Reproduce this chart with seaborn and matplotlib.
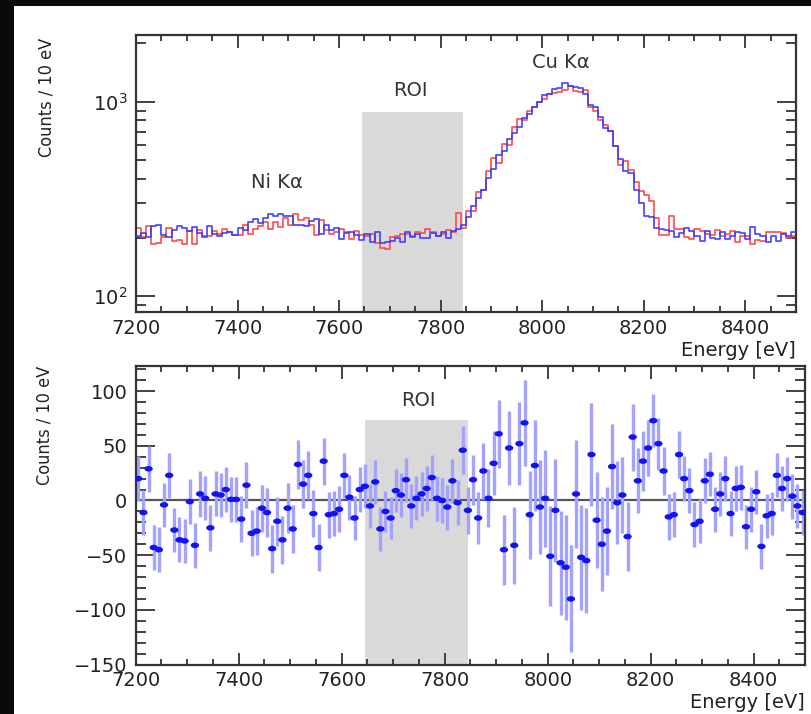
import numpy as np
import pandas as pd
import seaborn as sns
import matplotlib
matplotlib.use("Agg")
import matplotlib.pyplot as plt
from matplotlib import font_manager
from matplotlib.ticker import MultipleLocator, LogLocator, NullFormatter
from matplotlib.patches import Rectangle
from matplotlib.path import Path
from matplotlib.transforms import Affine2D

# ---------------------------------------------------------------- data
# 10 eV bins from 7200 eV to 8500 eV
energy_edges = np.arange(7200, 8501, 10)
energy_centers = energy_edges[:-1] + 5

# spectrum A (blue histogram), counts per 10 eV bin
counts_blue = [
    203, 212, 201, 229, 233, 206, 202, 220, 230, 223,
    217, 226, 212, 202, 230, 210, 205, 211, 213, 206,
    224, 218, 240, 250, 237, 252, 265, 259, 264, 259,
    259, 231, 232, 230, 243, 250, 210, 231, 220, 223,
    198, 212, 213, 206, 194, 209, 191, 213, 188, 190,
    192, 200, 191, 213, 202, 208, 200, 200, 212, 204,
    215, 200, 216, 222, 232, 255, 290, 318, 350, 405,
    450, 530, 560, 640, 690, 740, 820, 860, 940, 990,
    1080, 1100, 1160, 1180, 1240, 1200, 1190, 1170, 1100, 960,
    940, 830, 730, 710, 590, 505, 440, 430, 350, 300,
    258, 255, 225, 222, 220, 216, 201, 212, 224, 216,
    203, 193, 216, 200, 198, 215, 198, 204, 215, 212,
    196, 227, 208, 204, 190, 203, 193, 208, 205, 215,
]

# spectrum B (red histogram), counts per 10 eV bin
counts_red = [
    223, 201, 230, 186, 188, 202, 225, 193, 194, 186,
    216, 185, 218, 204, 205, 216, 210, 221, 214, 207,
    207, 232, 210, 222, 230, 241, 221, 240, 228, 252,
    233, 264, 247, 253, 231, 207, 246, 218, 208, 215,
    221, 215, 197, 216, 207, 204, 208, 187, 178, 174,
    201, 205, 210, 208, 204, 214, 211, 221, 214, 204,
    209, 218, 214, 268, 223, 274, 274, 345, 352, 439,
    511, 485, 608, 599, 742, 811, 807, 892, 934, 992,
    1029, 1091, 1103, 1119, 1150, 1206, 1138, 1115, 1142, 942,
    900, 802, 761, 708, 595, 472, 498, 448, 386, 348,
    331, 307, 252, 207, 207, 258, 221, 221, 202, 197,
    221, 217, 208, 206, 218, 203, 209, 216, 191, 204,
    204, 185, 194, 192, 213, 214, 213, 212, 200, 204,
]

# difference B - A per bin and its statistical uncertainty
residual = [
    20, -11, 29, -43, -45, -4, 23, -27, -36, -37,
    -1, -41, 6, 2, -25, 6, 5, 10, 1, 1,
    -17, 14, -30, -28, -7, -11, -44, -19, -36, -7,
    -26, 33, 15, 23, -12, -43, 36, -13, -12, -8,
    23, 3, -16, 10, 13, -5, 17, -26, -10, -16,
    9, 5, 19, -5, 2, 6, 11, 21, 2, 0,
    -6, 18, -2, 46, -9, 19, -16, 27, 2, 34,
    61, -45, 48, -41, 52, 71, -13, 32, -6, 2,
    -51, -9, -57, -61, -90, 6, -52, -55, 42, -18,
    -40, -28, 31, -2, 5, -33, 58, 18, 36, 48,
    73, 52, 27, -15, -13, 42, 20, 9, -22, -19,
    18, 24, -8, 6, 20, -12, 11, 12, -24, -8,
    8, -42, -14, -12, 23, 11, 20, 4, -5, -11,
]

residual_err = [
    20.6, 20.3, 20.8, 20.4, 20.5, 20.2, 20.7, 20.3, 20.6, 20.2,
    20.8, 20.3, 20.7, 20.1, 20.9, 20.6, 20.4, 20.8, 20.7, 20.3,
    20.8, 21.2, 21.2, 21.7, 21.6, 22.2, 22.0, 22.3, 22.2, 22.6,
    22.2, 22.2, 21.9, 22.0, 21.8, 21.4, 21.4, 21.2, 20.7, 20.9,
    20.5, 20.7, 20.2, 20.5, 20.0, 20.3, 20.0, 20.0, 19.1, 19.1,
    19.8, 20.1, 20.0, 20.5, 20.1, 20.5, 20.3, 20.5, 20.6, 20.2,
    20.6, 20.4, 20.7, 22.1, 21.3, 23.0, 23.7, 25.7, 26.5, 29.1,
    31.0, 31.9, 34.2, 35.2, 37.8, 39.4, 40.3, 41.9, 43.3, 44.5,
    45.9, 46.8, 47.6, 47.9, 48.9, 49.1, 48.2, 47.8, 47.4, 43.6,
    42.9, 40.4, 38.6, 37.7, 34.4, 31.3, 30.6, 29.6, 27.1, 25.5,
    24.3, 23.7, 21.8, 20.7, 20.7, 21.8, 20.5, 20.8, 20.6, 20.3,
    20.6, 20.2, 20.6, 20.1, 20.4, 20.4, 20.2, 20.5, 20.1, 20.4,
    20.0, 20.3, 20.0, 19.9, 20.1, 20.4, 20.1, 20.5, 20.1, 20.5,
]

# region of interest and peak annotations
roi_range = (7645, 7845)
roi_top_counts = 880
roi_top_resid = 74
peak_labels = ["Ni K\u03b1", "Cu K\u03b1"]
peak_label_pos = [(7477, 385), (8036, 1580)]

# ---------------------------------------------------------------- style
sns.set_style("ticks")
plt.rcParams["font.family"] = ["DejaVu Sans"]
plt.rcParams["axes.unicode_minus"] = True

# a narrow face for the rotated axis titles, if one is installed
_installed = {(f.name, f.stretch) for f in font_manager.fontManager.ttflist}
_names = {n for n, _ in _installed}
if "Liberation Sans Narrow" in _names:
    ytitle_font = dict(family=["Liberation Sans Narrow", "DejaVu Sans"], fontsize=15)
elif ("DejaVu Sans", "condensed") in _installed or ("DejaVu Sans", 700 - 200) in _installed:
    ytitle_font = dict(family=["DejaVu Sans"], fontstretch="condensed", fontsize=13)
else:
    ytitle_font = dict(family=["DejaVu Sans"], fontsize=12.5)

TXT = "#222222"
SPINE = "#333333"
BLUE_LINE = "#3c3cff"
RED_LINE = "#ff4646"
ROI_GREY = "#d9d9d9"

fig = plt.figure(figsize=(8.12, 7.14), dpi=100)
fig.patch.set_facecolor("white")
W, H = 812.0, 714.0

# dark slide margins
fig.patches.append(Rectangle((0, 0), 14 / W, 1, transform=fig.transFigure,
                             facecolor="#0a0a0a", edgecolor="none", zorder=-5))
fig.patches.append(Rectangle((0, 1 - 6 / H), 1, 6 / H, transform=fig.transFigure,
                             facecolor="#0a0a0a", edgecolor="none", zorder=-5))

ax1 = fig.add_axes([136 / W, (H - 312) / H, 660 / W, 277 / H])
ax2 = fig.add_axes([135.7 / W, (H - 664.5) / H, 669.5 / W, 298.5 / H])


def style_axes(ax):
    for s in ax.spines.values():
        s.set_color(SPINE)
        s.set_linewidth(1.6)
        s.set_visible(True)
    ax.tick_params(which="both", direction="in", top=True, right=True,
                   colors=SPINE, labelcolor=TXT, labelsize=14, width=1.3)
    ax.tick_params(axis="y", which="major", length=13.5, pad=6)
    ax.tick_params(axis="y", which="minor", length=7)
    ax.tick_params(axis="x", which="major", length=9, pad=5)
    ax.tick_params(axis="x", which="minor", length=4.5)
    ax.xaxis.set_major_locator(MultipleLocator(200))
    ax.xaxis.set_minor_locator(MultipleLocator(50))
    ax.set_xlim(energy_edges[0], energy_edges[-1])
    ax.set_facecolor("white")


# ---------------------------------------------------------------- top panel
spec = pd.DataFrame({
    "energy": energy_edges,
    "blue": list(counts_blue) + [counts_blue[-1]],
    "red": list(counts_red) + [counts_red[-1]],
})

ax1.fill_between(roi_range, 1, roi_top_counts, color=ROI_GREY, lw=0, zorder=0)
sns.lineplot(data=spec, x="energy", y="red", estimator=None, drawstyle="steps-post",
             color=RED_LINE, lw=1.3, alpha=0.9, ax=ax1, zorder=2)
sns.lineplot(data=spec, x="energy", y="blue", estimator=None, drawstyle="steps-post",
             color=BLUE_LINE, lw=1.3, alpha=0.9, ax=ax1, zorder=3)

ax1.set_yscale("log")
ax1.set_ylim(83, 2200)
ax1.yaxis.set_major_locator(LogLocator(base=10))
ax1.yaxis.set_minor_locator(LogLocator(base=10, subs=np.arange(2, 10)))
ax1.yaxis.set_minor_formatter(NullFormatter())
style_axes(ax1)

ax1.text(np.mean(roi_range) - 5, 1140, "ROI", ha="center", va="center",
         fontsize=14, color="#333333")
for lab, (xe, ye) in zip(peak_labels, peak_label_pos):
    ax1.text(xe, ye, lab, ha="center", va="center", fontsize=14, color="#333333")

ax1.set_xlabel("Energy [eV]", loc="right", fontsize=14, color=TXT, labelpad=2)
ax1.set_ylabel("Counts / 10 eV", loc="top", color=TXT, **ytitle_font)
ax1.yaxis.set_label_coords(-0.122, 0.99)

# ---------------------------------------------------------------- bottom panel
res = pd.DataFrame({"energy": energy_centers, "diff": residual, "err": residual_err})

ax2.fill_between(roi_range, -150, roi_top_resid, color=ROI_GREY, lw=0, zorder=0)
ax2.axhline(0, color="#555555", lw=1.6, zorder=1)
ax2.errorbar(res["energy"], res["diff"], yerr=res["err"], fmt="none",
             ecolor="#a3a3ff", elinewidth=2.4, capsize=0, zorder=2)

ellipse = Path.unit_circle().transformed(Affine2D().scale(1.5, 1.0))
sns.scatterplot(data=res, x="energy", y="diff", marker=ellipse, s=36,
                color="#1212f2", edgecolor="none", ax=ax2, zorder=3)

ax2.set_ylim(-150, 123)
ax2.yaxis.set_major_locator(MultipleLocator(50))
ax2.yaxis.set_minor_locator(MultipleLocator(10))
style_axes(ax2)

ax2.text(np.mean(roi_range) + 4, 91, "ROI", ha="center", va="center",
         fontsize=14, color="#333333")

ax2.set_xlabel("Energy [eV]", loc="right", fontsize=14, color=TXT, labelpad=2)
ax2.set_ylabel("Counts / 10 eV", loc="top", color=TXT, **ytitle_font)
ax2.yaxis.set_label_coords(-0.123, 1.0)

fig.savefig("out.png", dpi=100, facecolor=fig.get_facecolor())
